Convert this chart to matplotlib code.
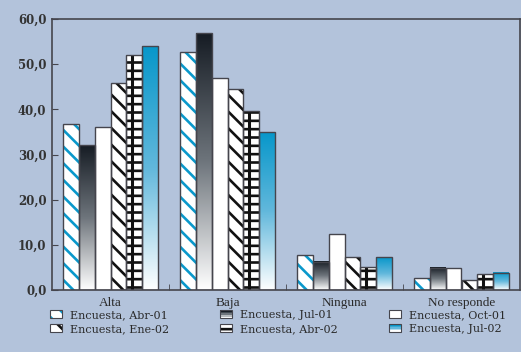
import numpy as np
import matplotlib.pyplot as plt
from matplotlib.colors import LinearSegmentedColormap
from matplotlib.patches import Rectangle
from matplotlib.legend_handler import HandlerBase
from matplotlib.ticker import FuncFormatter, FixedLocator

# Porcentaje de respuestas por categoria en cada encuesta
categorias = ["Alta", "Baja", "Ninguna", "No responde"]
encuestas = ["Encuesta, Abr-01", "Encuesta, Jul-01", "Encuesta, Oct-01",
             "Encuesta, Ene-02", "Encuesta, Abr-02", "Encuesta, Jul-02"]
abr01 = [36.8, 52.7, 7.8, 2.7]
jul01 = [32.0, 56.9, 6.2, 4.9]
oct01 = [36.0, 46.9, 12.4, 4.9]
ene02 = [45.8, 44.4, 7.3, 2.2]
abr02 = [52.0, 39.6, 5.1, 3.6]
jul02 = [54.0, 34.9, 7.3, 3.8]
series = [abr01, jul01, oct01, ene02, abr02, jul02]

fondo = "#b3c3db"
borde = "#45454d"
azul = "#0a98cb"
cmap_gris = LinearSegmentedColormap.from_list("gris", ["#161c24", "#6e757c", "#ffffff"])
cmap_azul = LinearSegmentedColormap.from_list("azul", ["#0797ca", "#62b8dc", "#ffffff"])

# relleno de cada serie: ("hatch", color, patron) / ("grad", cmap) / ("plain",)
estilos = [("hatch", azul, "\\\\"), ("grad", cmap_gris), ("plain",),
           ("hatch", "#111111", "\\\\"), ("hatch", "#111111", "--"), ("grad", cmap_azul)]

plt.rcParams["hatch.linewidth"] = 1.9
plt.rcParams["font.family"] = "DejaVu Serif"

fig = plt.figure(figsize=(5.21, 3.52), dpi=100, facecolor=fondo)
ax = fig.add_axes([52 / 521, 62 / 352, 468 / 521, 271 / 352])
ax.set_facecolor(fondo)

x = np.arange(len(categorias))
ancho = 0.134
grad = np.linspace(0, 1, 256).reshape(-1, 1)

for i, (vals, est) in enumerate(zip(series, estilos)):
    pos = x + (i - 2.5) * ancho
    if est[0] == "hatch":
        ax.bar(pos, vals, ancho, color="white", edgecolor=est[1], linewidth=0,
               hatch=est[2], zorder=2)
        if est[2] == "--":
            # barra vertical de la trama cuadriculada
            ax.vlines(pos - 0.15 * ancho, 0, vals, color=est[1], linewidth=2.2, zorder=2)
    elif est[0] == "grad":
        rects = ax.bar(pos, vals, ancho, color="none", linewidth=0, zorder=2)
        for r in rects:
            ax.imshow(grad, extent=[r.get_x(), r.get_x() + r.get_width(), 0, r.get_height()],
                      cmap=est[1], vmin=0, vmax=1, aspect="auto", zorder=2,
                      interpolation="bilinear")
    else:
        ax.bar(pos, vals, ancho, color="white", linewidth=0, zorder=2)
    ax.bar(pos, vals, ancho, fill=False, edgecolor=borde, linewidth=1.0, zorder=3)

ax.set_xlim(-0.5, 3.5)
ax.set_ylim(0, 60)
ax.set_yticks(np.arange(0, 61, 10))
ax.yaxis.set_major_formatter(FuncFormatter(lambda v, p: f"{v:.1f}".replace(".", ",")))
ax.set_xticks(x)
ax.set_xticklabels(categorias, family="Liberation Serif", fontsize=9.5)
ax.xaxis.set_minor_locator(FixedLocator([0.5, 1.5, 2.5]))
ax.tick_params(axis="x", which="major", length=0, pad=5, colors="#2a2a2a")
ax.tick_params(axis="x", which="minor", length=4, direction="in", color=borde)
ax.tick_params(axis="y", length=4, direction="in", color=borde, labelcolor="#333333",
               labelsize=8.5, pad=4)
for lab in ax.get_yticklabels():
    lab.set_fontweight("bold")
for s in ax.spines.values():
    s.set_color(borde)
    s.set_linewidth(1.2)


class HandlerGradiente(HandlerBase):
    def __init__(self, cmap):
        super().__init__()
        self.cmap = cmap

    def create_artists(self, legend, orig_handle, xdescent, ydescent, width, height,
                       fontsize, trans):
        n = 5
        arts = []
        for k in range(n):
            arts.append(Rectangle((-xdescent, -ydescent + height * (n - 1 - k) / n),
                                  width, height / n, facecolor=self.cmap(k / (n - 1)),
                                  edgecolor="none", transform=trans))
        arts.append(Rectangle((-xdescent, -ydescent), width, height, fill=False,
                              edgecolor=borde, linewidth=0.8, transform=trans))
        return arts


class HandlerRelleno(HandlerBase):
    def __init__(self, color, patron):
        super().__init__()
        self.color = color
        self.patron = patron

    def create_artists(self, legend, orig_handle, xdescent, ydescent, width, height,
                       fontsize, trans):
        fondo_r = Rectangle((-xdescent, -ydescent), width, height, facecolor="white",
                            edgecolor=self.color, hatch=self.patron, linewidth=0,
                            transform=trans)
        marco = Rectangle((-xdescent, -ydescent), width, height, fill=False,
                          edgecolor=borde, linewidth=0.8, transform=trans)
        return [fondo_r, marco]


handles = []
handler_map = {}
for nombre, est in zip(encuestas, estilos):
    h = Rectangle((0, 0), 1, 1, label=nombre)
    if est[0] == "hatch":
        handler_map[h] = HandlerRelleno(est[1], est[2])
    elif est[0] == "grad":
        handler_map[h] = HandlerGradiente(est[1])
    else:
        handler_map[h] = HandlerRelleno("white", None)
    handles.append(h)

orden = [0, 3, 1, 4, 2, 5]
fig.legend([handles[k] for k in orden], [encuestas[k] for k in orden],
           handler_map=handler_map, ncol=3, loc="upper left",
           bbox_to_anchor=(50 / 521, 1 - 310 / 352), frameon=False, fontsize=8,
           handlelength=1.1, handleheight=0.75, handletextpad=0.7,
           columnspacing=4.6, labelspacing=0.35, borderpad=0, borderaxespad=0,
           labelcolor="#2a2a2a")

fig.savefig("out.png", dpi=100, facecolor=fondo)
